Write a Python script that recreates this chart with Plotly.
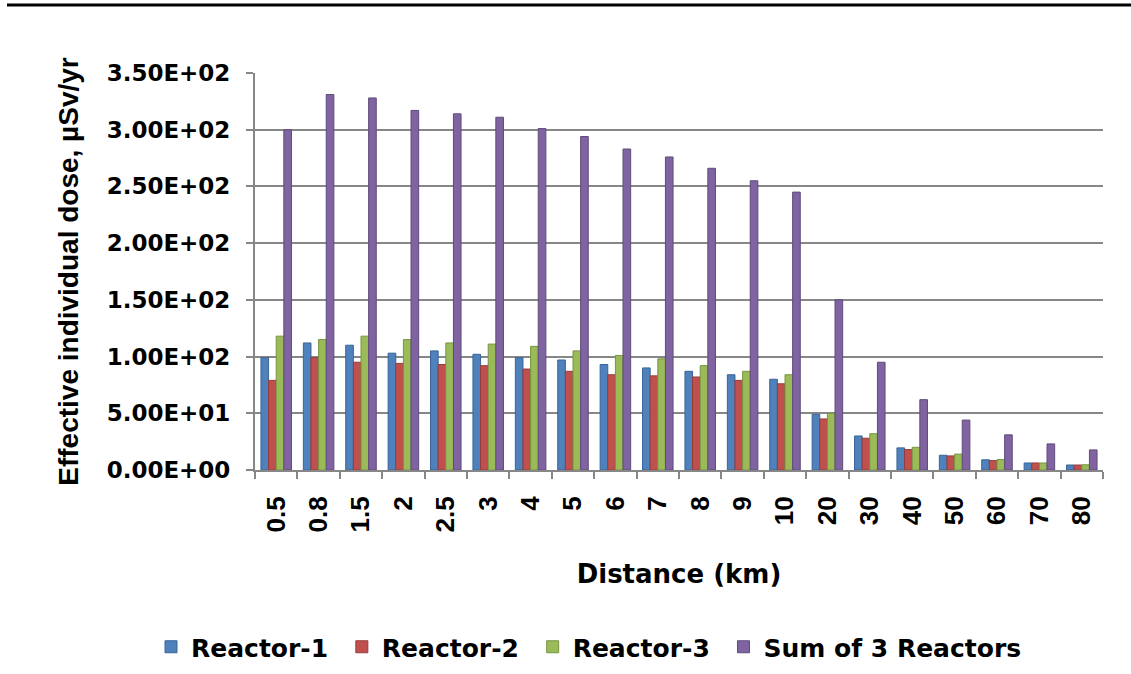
import plotly.graph_objects as go

distances = ["0.5", "0.8", "1.5", "2", "2.5", "3", "4", "5", "6", "7",
             "8", "9", "10", "20", "30", "40", "50", "60", "70", "80"]
reactor1 = [99, 112, 110, 103, 105, 102, 99, 97, 93, 90, 87, 84, 80, 49, 30, 19.5, 13, 9, 6.2, 4.4]
reactor2 = [79, 99, 95, 94, 93, 92, 89, 87, 84, 83, 82, 79, 76, 45, 28, 18, 12.4, 8.3, 6.2, 4.4]
reactor3 = [118, 115, 118, 115, 112, 111, 109, 105, 101, 98, 92, 87, 84, 50, 32, 20, 14, 9.2, 6.2, 4.6]
sum3 = [300, 331, 328, 317, 314, 311, 301, 294, 283, 276, 266, 255, 245, 150, 95, 62, 44, 31, 23, 17.7]

y_ticks = [0, 50, 100, 150, 200, 250, 300, 350]
y_tick_text = ["0.00E+00", "5.00E+01", "1.00E+02", "1.50E+02", "2.00E+02", "2.50E+02", "3.00E+02", "3.50E+02"]

NBSP = "\u00a0"
series = [
    ("Reactor-1", reactor1, "#4F81BD", "#3A6496"),
    ("Reactor-2", reactor2, "#C0504D", "#963C3A"),
    ("Reactor-3", reactor3, "#9BBB59", "#779443"),
    ("Sum of 3 Reactors", sum3, "#8064A2", "#5F4B7B"),
]

ARIAL = "Liberation Sans, Arial, sans-serif"
WIDE = "DejaVu Sans, Liberation Sans, Arial, sans-serif"

fig = go.Figure()
for name, vals, col, edge in series:
    fig.add_trace(go.Bar(
        x=distances, y=vals, name=name + NBSP,
        marker=dict(color=col, line=dict(color=edge, width=1)),
    ))

grid_col = "#878787"
L, R, T, B = 255, 28, 73, 204
PW, PH = 1131 - L - R, 674 - T - B

fig.update_layout(
    width=1131, height=674,
    margin=dict(l=L, r=R, t=T, b=B, autoexpand=False),
    paper_bgcolor="white", plot_bgcolor="white",
    barmode="group", bargap=0.28, bargroupgap=0.0,
    font=dict(family=ARIAL, size=24, color="black", weight="bold"),
    showlegend=True,
    legend=dict(
        orientation="h", xref="paper", yref="paper",
        x=(151 - L) / PW, xanchor="left",
        y=-(647 - (674 - B)) / PH, yanchor="middle",
        font=dict(family=WIDE, size=25, color="black", weight="bold"),
        itemwidth=30, traceorder="normal",
    ),
    xaxis=dict(
        type="category",
        showgrid=False,
        showline=True, linecolor=grid_col, linewidth=2,
        ticks="outside", tickson="boundaries", ticklen=7, tickcolor=grid_col, tickwidth=2,
        tickangle=-90, ticklabelstandoff=14,
        tickfont=dict(family=ARIAL, size=26, color="black", weight="bold"),
        title=dict(text="Distance (km)", standoff=33,
                   font=dict(family=WIDE, size=26, color="black", weight="bold")),
    ),
    yaxis=dict(
        range=[0, 350],
        tickvals=y_ticks, ticktext=y_tick_text,
        showgrid=True, gridcolor=grid_col, gridwidth=2,
        zeroline=False,
        showline=True, linecolor=grid_col, linewidth=2,
        ticks="outside", ticklen=7, tickcolor=grid_col, tickwidth=2,
        ticklabelstandoff=11,
        tickfont=dict(family=WIDE, size=23, color="black", weight="bold"),
        title=dict(text="Effective individual dose, µSv/yr", standoff=20,
                   font=dict(family=ARIAL, size=28, color="black", weight="bold")),
    ),
    shapes=[
        dict(type="line", xref="paper", yref="paper",
             x0=(7 - L) / PW, x1=(1131 - L) / PW,
             y0=1 + (T - 5) / PH, y1=1 + (T - 5) / PH,
             line=dict(color="black", width=3)),
    ],
)

fig.write_html("out.html", config={"displayModeBar": False},
               post_script="document.body.style.margin='0';")
